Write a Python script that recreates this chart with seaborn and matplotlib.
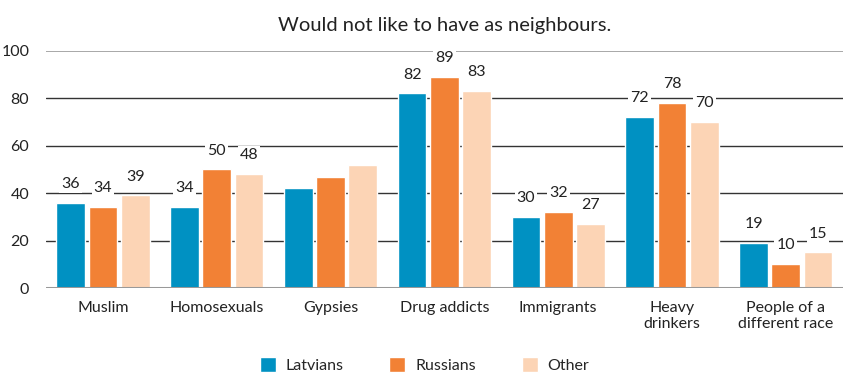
import matplotlib
matplotlib.use("Agg")
import matplotlib.pyplot as plt
import seaborn as sns
import pandas as pd

categories = ["Muslim", "Homosexuals", "Gypsies", "Drug addicts", "Immigrants",
              "Heavy\ndrinkers", "People of a\ndifferent race"]
groups = ["Latvians", "Russians", "Other"]
latvians = [36, 34, 42, 82, 30, 72, 19]
russians = [34, 50, 47, 89, 32, 78, 10]
other = [39, 48, 52, 83, 27, 70, 15]
show_label = [True, True, False, True, True, True, True]
yticks = [0, 20, 40, 60, 80, 100]
colors = ["#0091C2", "#F28135", "#FCD4B5"]

rows = []
for g, vals in zip(groups, [latvians, russians, other]):
    for c, v in zip(categories, vals):
        rows.append({"category": c, "group": g, "value": v})
df = pd.DataFrame(rows)

sns.set_theme(style="white")
plt.rcParams["font.family"] = ["Lato", "DejaVu Sans"]

fig = plt.figure(figsize=(8.44, 3.76), dpi=100)
ax = fig.add_axes([0.0545, 0.234, 0.944, 0.631])

sns.barplot(data=df, x="category", y="value", hue="group", order=categories,
            hue_order=groups, palette=colors, width=0.85, gap=0.11,
            saturation=1, ax=ax, zorder=3, legend=True)

ax.set_ylim(0, 100)
ax.set_yticks(yticks)
ax.set_yticklabels([str(t) for t in yticks], fontsize=11.5, color="#222222")
ax.tick_params(axis="y", length=0, pad=12)
ax.tick_params(axis="x", length=0, pad=9, labelsize=11.5, labelcolor="#222222")
for t in yticks[1:-1]:
    ax.axhline(t, color="#333333", lw=1, zorder=1)
ax.axhline(100, color="#999999", lw=1.2, zorder=1)
ax.axhline(0, color="#999999", lw=2.2, zorder=4)
for s in ax.spines.values():
    s.set_visible(False)
ax.set_xlabel("")
ax.set_ylabel("")
ax.set_xlim(-0.5, len(categories) - 0.5)

for container in ax.containers:
    for i, bar in enumerate(container):
        if not show_label[i]:
            continue
        h = bar.get_height()
        ax.text(bar.get_x() + bar.get_width() / 2, h + 5, f"{int(round(h))}",
                ha="center", va="bottom", fontsize=11.5, color="#222222", zorder=5,
                bbox=dict(facecolor="white", edgecolor="none", pad=1.5))

ax.set_title("Would not like to have as neighbours.", fontsize=14.5,
             color="#222222", pad=14)

leg = ax.legend(loc="lower center", bbox_to_anchor=(0.475, -0.385), ncol=3,
                frameon=False, fontsize=11.5, handlelength=1.0, handleheight=1.0,
                columnspacing=2.9, handletextpad=0.6, borderaxespad=0.0)

fig.savefig("out.png", dpi=100)
